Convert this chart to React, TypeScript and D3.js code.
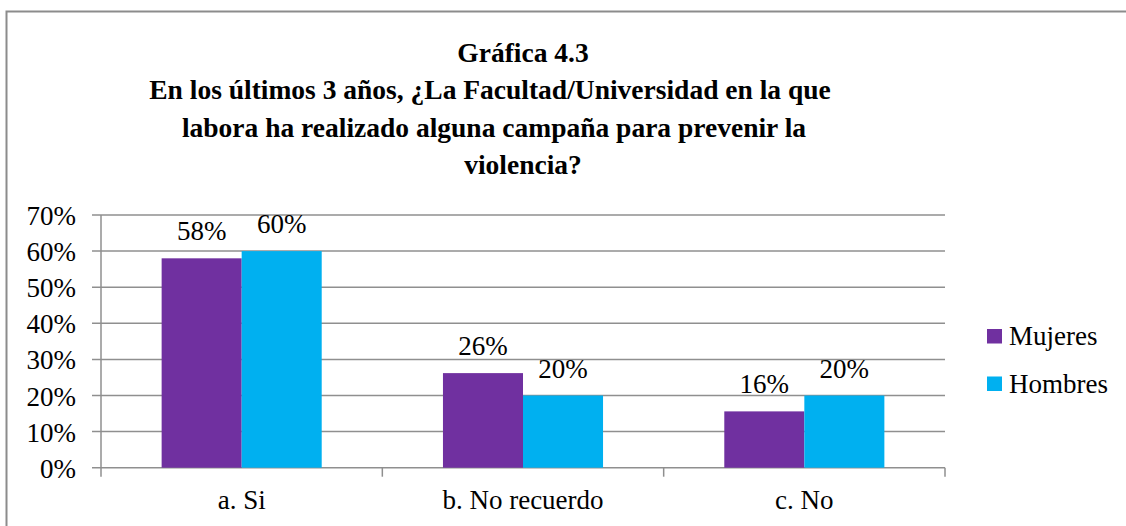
import * as d3 from 'd3';
import React from 'react';

const categories = ['a. Si', 'b. No recuerdo', 'c. No'];
const seriesNames = ['Mujeres', 'Hombres'];
const mujeres = [0.58, 0.262, 0.156];
const hombres = [0.60, 0.20, 0.20];
const yTicks = [0, 0.1, 0.2, 0.3, 0.4, 0.5, 0.6, 0.7];
const titleLines = [
    'Gráfica 4.3',
    'En los últimos 3 años, ¿La Facultad/Universidad en la que',
    'labora ha realizado alguna campaña para prevenir la',
    'violencia?',
];

const colors = ['#7030A0', '#00B0F0'];
const font = '"Liberation Serif", "Times New Roman", serif';

const App = () => {
    const width = 1126, height = 526;
    const plot = { left: 101, right: 945, top: 215, bottom: 467.7 };

    const x = d3.scaleBand<string>()
        .domain(categories)
        .range([plot.left, plot.right])
        .paddingInner(0.431)
        .paddingOuter(0.2155);

    const xSub = d3.scaleBand<string>()
        .domain(seriesNames)
        .range([0, x.bandwidth()]);

    const y = d3.scaleLinear()
        .domain([0, 0.7])
        .range([plot.bottom, plot.top]);

    const pct = d3.format('.0%');
    const values = [mujeres, hombres];
    const step = x.step();
    const catTicks = [0, 1, 2, 3].map(i => plot.left + i * step);

    // title line centres / baselines
    const titlePos = [[523, 62], [490, 98.5], [494, 136.5], [523, 174]];

    return (
        <svg width={width} height={height} style={{ position: 'absolute', left: 0, top: 0 }} fontFamily={font}>
            <rect x={0} y={0} width={width} height={height} fill="#fff" />
            <rect x={6.5} y={11.5} width={1300} height={700} fill="none" stroke="#8c8c8c" strokeWidth={2} />

            {titleLines.map((t, i) => (
                <text key={i} x={titlePos[i][0]} y={titlePos[i][1]} textAnchor="middle"
                    fontWeight="bold" fontSize={27.5} fill="#000">{t}</text>
            ))}

            {/* gridlines */}
            {yTicks.map(t => (
                <line key={t} x1={plot.left - 9} x2={plot.right} y1={y(t)} y2={y(t)}
                    stroke="#8f8f8f" strokeWidth={1.5} />
            ))}
            <line x1={plot.left} x2={plot.left} y1={plot.top} y2={plot.bottom} stroke="#8f8f8f" strokeWidth={1.5} />
            {catTicks.map((cx, i) => (
                <line key={i} x1={cx} x2={cx} y1={plot.bottom} y2={plot.bottom + 9} stroke="#8f8f8f" strokeWidth={1.5} />
            ))}

            {yTicks.map(t => (
                <text key={t} x={76} y={y(t) + 10} textAnchor="end" fontSize={27} fill="#000">{pct(t)}</text>
            ))}

            {categories.map((c, ci) => (
                <g key={c} transform={`translate(${x(c)},0)`}>
                    {seriesNames.map((s, si) => {
                        const v = values[si][ci];
                        return (
                            <g key={s}>
                                <rect x={xSub(s)} y={y(v)} width={xSub.bandwidth()} height={plot.bottom - y(v)} fill={colors[si]} />
                                <text x={(xSub(s) as number) + xSub.bandwidth() / 2} y={y(v) - 18}
                                    textAnchor="middle" fontSize={27} fill="#000">{pct(v)}</text>
                            </g>
                        );
                    })}
                    <text x={x.bandwidth() / 2} y={509} textAnchor="middle" fontSize={27} fill="#000">{c}</text>
                </g>
            ))}

            {seriesNames.map((s, i) => (
                <g key={s} transform={`translate(987,${329 + i * 47.5})`}>
                    <rect x={0} y={0} width={15} height={14.5} fill={colors[i]} />
                    <text x={22} y={16} fontSize={27} fill="#000">{s}</text>
                </g>
            ))}
        </svg>
    );
};

export default App;
